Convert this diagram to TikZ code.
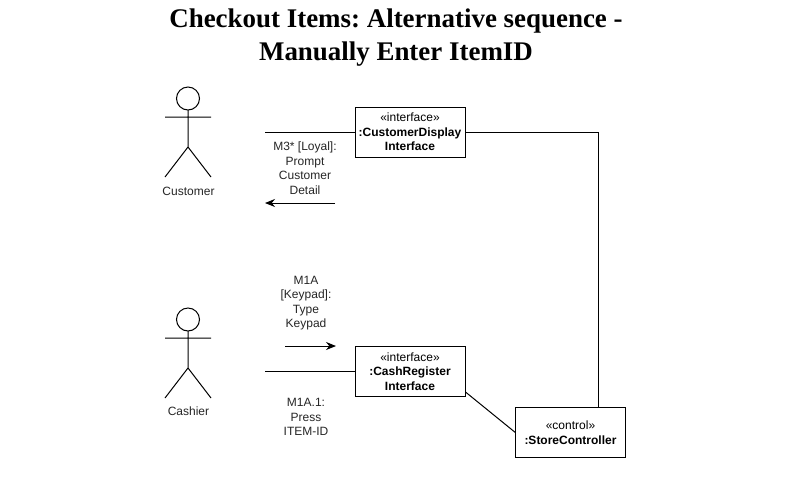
\documentclass[tikz,border=0pt]{standalone}
\usepackage{fontspec}
\setmainfont{Liberation Sans}
\newfontfamily\titlefont{Liberation Serif}
\usetikzlibrary{arrows.meta}
\frenchspacing
\tikzset{
 px/.style={x=0.75pt,y=-0.75pt},
 box/.style={draw=black,fill=white,line width=0.75pt,minimum width=82.5pt,minimum height=37.5pt,inner sep=0pt,align=center,font=\fontsize{9}{10.9}\selectfont},
 lab/.style={align=center,inner sep=0pt,font=\fontsize{9}{10.9}\selectfont,text=black!85},
 ttl/.style={align=center,inner sep=0pt,font=\titlefont\bfseries\fontsize{20.2}{24.75}\selectfont},
 conn/.style={draw=black,line width=0.75pt},
 msg/.style={conn,-{Stealth[length=7.5pt,width=6pt]}},
 stick/.style={draw=black,line width=0.75pt}
}
\begin{document}
\begin{tikzpicture}[px]
\useasboundingbox[fill=white] (0,0) rectangle (786,476);
\node[ttl] (title) at (396,38) {Checkout Items: Alternative sequence -\\Manually Enter ItemID};
% customer
\draw[stick] (188,98.5) circle (11.5);
\draw[stick] (188,110) -- (188,147) (165,117) -- (211,117) (165,177) -- (188,147) -- (211,177);
\node[lab] (custlabel) at (188.5,191) {Customer};
% cashier
\draw[stick] (188,319.5) circle (11.5);
\draw[stick] (188,331) -- (188,368) (165,338) -- (211,338) (165,398) -- (188,368) -- (211,398);
\node[lab] (cashlabel) at (188.5,411) {Cashier};
\node[box] (cdi) at (410,132) {«interface»\\\textbf{:CustomerDisplay}\\\textbf{Interface}};
\node[box] (cri) at (410,371.5) {«interface»\\\textbf{:CashRegister}\\\textbf{Interface}};
\node[box,minimum width=82pt] (sc) at (570.5,432.5) {«control»\\\textbf{:StoreController}};
\coordinate (c1) at (265,132);
\coordinate (c2) at (265,371.5);
\draw[conn] (c1) -- (cdi.west);
\draw[conn] (c2) -- (cri.west);
\draw[conn] (cdi.east) -- (598,132) -- (598,407);
\draw[conn] (cri.south east) ++(0,-5) -- (sc.west);
\coordinate (a1s) at (335,203); \coordinate (a1e) at (265,203);
\coordinate (a2s) at (285,346); \coordinate (a2e) at (336,346);
\draw[msg] (a1s) -- (a1e);
\draw[msg] (a2s) -- (a2e);
\node[lab] (m3) at (305,168) {M3* [Loyal]:\\Prompt\\Customer\\Detail};
\node[lab] (m1a) at (306,303) {M1A\\{[Keypad]:}\\Type\\Keypad};
\node[lab] (m1a1) at (306,417) {M1A.1:\\Press\\ITEM-ID};
\end{tikzpicture}
\end{document}
